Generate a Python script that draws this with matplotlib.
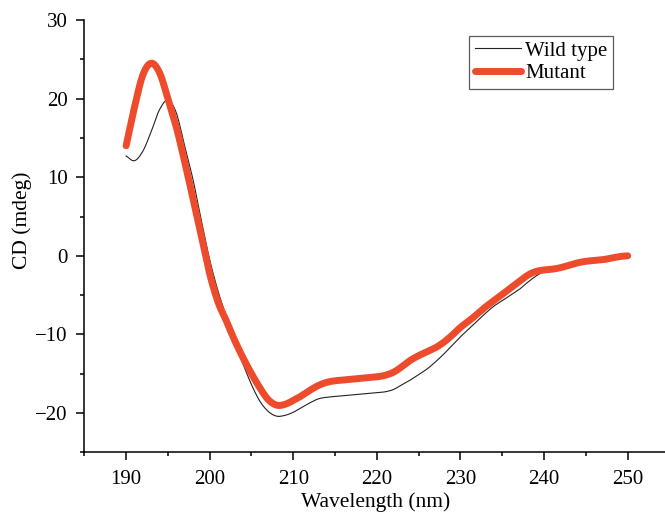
import numpy as np
import matplotlib
matplotlib.use('Agg')
import matplotlib.pyplot as plt
from matplotlib.ticker import MultipleLocator

# CD spectra, 190-250 nm in 1 nm steps
wavelength = np.arange(190, 251)

mutant = [14.0, 18.9, 23.0, 24.5, 23.3, 20.0, 16.4, 12.0, 7.3, 2.5,
          -2.3, -5.9, -8.3, -10.8, -13.0, -15.0, -16.8, -18.3, -19.0, -18.9,
          -18.4, -17.8, -17.1, -16.5, -16.1, -15.9, -15.8, -15.7, -15.6, -15.5,
          -15.4, -15.2, -14.8, -14.1, -13.3, -12.7, -12.2, -11.7, -11.0, -10.1,
          -9.1, -8.3, -7.4, -6.5, -5.7, -4.9, -4.1, -3.3, -2.5, -2.0,
          -1.8, -1.7, -1.5, -1.2, -0.9, -0.7, -0.6, -0.5, -0.3, -0.1,
          0.0]

wild_type = [12.7, 12.1, 13.3, 15.8, 18.6, 19.8, 18.2, 14.0, 9.7, 4.5,
             -0.5, -4.5, -7.8, -11.0, -13.8, -16.4, -18.5, -19.8, -20.4, -20.3,
             -19.9, -19.3, -18.7, -18.2, -18.0, -17.9, -17.8, -17.7, -17.6, -17.5,
             -17.4, -17.3, -17.0, -16.4, -15.8, -15.1, -14.4, -13.5, -12.5, -11.4,
             -10.3, -9.3, -8.3, -7.3, -6.4, -5.7, -5.0, -4.3, -3.4, -2.6,
             -2.0, -1.7, -1.5, -1.2, -0.9, -0.7, -0.6, -0.5, -0.3, -0.1,
             0.0]


def smooth(x, y, n=10):
    # Catmull-Rom curve through every measured point
    x = np.asarray(x, float)
    y = np.asarray(y, float)
    px = np.concatenate([[2 * x[0] - x[1]], x, [2 * x[-1] - x[-2]]])
    py = np.concatenate([[2 * y[0] - y[1]], y, [2 * y[-1] - y[-2]]])
    t = np.linspace(0, 1, n, endpoint=False)
    xs, ys = [], []
    for i in range(1, len(px) - 2):
        for p, out in ((px, xs), (py, ys)):
            p0, p1, p2, p3 = p[i - 1], p[i], p[i + 1], p[i + 2]
            out.append(0.5 * (2 * p1 + (p2 - p0) * t
                              + (2 * p0 - 5 * p1 + 4 * p2 - p3) * t ** 2
                              + (3 * p1 - p0 - 3 * p2 + p3) * t ** 3))
    xs.append([x[-1]])
    ys.append([y[-1]])
    return np.concatenate(xs), np.concatenate(ys)


plt.rcParams['font.family'] = ['Liberation Serif', 'DejaVu Serif']
plt.rcParams['mathtext.fontset'] = 'stix'

W, H = 665, 513
fig = plt.figure(figsize=(W / 100, H / 100), dpi=100)
ax = fig.add_axes([84.3 / W, 1 - 452.3 / H, 585.2 / W, 432.3 / H])

wx, wy = smooth(wavelength, wild_type)
mx, my = smooth(wavelength, mutant)
ax.plot(wx, wy, color='#222222', lw=0.8, label='Wild type', zorder=2)
ax.plot(mx, my, color='#EE4A2C', lw=5, solid_capstyle='round',
        label='Mutant', zorder=3)

ax.set_xlim(185, 255)
ax.set_ylim(-25, 30)
ax.xaxis.set_major_locator(MultipleLocator(10))
ax.xaxis.set_minor_locator(MultipleLocator(5))
ax.yaxis.set_major_locator(MultipleLocator(10))
ax.yaxis.set_minor_locator(MultipleLocator(5))
ax.set_xticks(np.arange(190, 251, 10))

for side in ('top', 'right'):
    ax.spines[side].set_visible(False)
for side in ('left', 'bottom'):
    ax.spines[side].set_linewidth(1.1)

ax.tick_params(which='major', direction='out', length=6, width=1.1,
               labelsize=15)
ax.tick_params(axis='x', which='major', pad=6.5)
ax.tick_params(axis='y', which='major', pad=6)
ax.tick_params(which='minor', direction='out', length=3, width=1.1)

# axis titles placed in figure pixels
fig.text(376 / W, 5.5 / H, 'Wavelength (nm)', fontsize=15.5,
         ha='center', va='baseline')
fig.text(22 / W, 1 - 220 / H, 'CD (mdeg)', fontsize=15.5, rotation=90,
         ha='center', va='center')

leg = ax.legend(loc='upper left', bbox_to_anchor=(0.658, 0.963), fontsize=15,
                frameon=True, fancybox=False, handlelength=2.25,
                handletextpad=0.18, borderpad=0.25, labelspacing=0.15,
                borderaxespad=0)
leg.get_frame().set_edgecolor('#333333')
leg.get_frame().set_linewidth(0.9)

fig.savefig('out.png', dpi=100)
